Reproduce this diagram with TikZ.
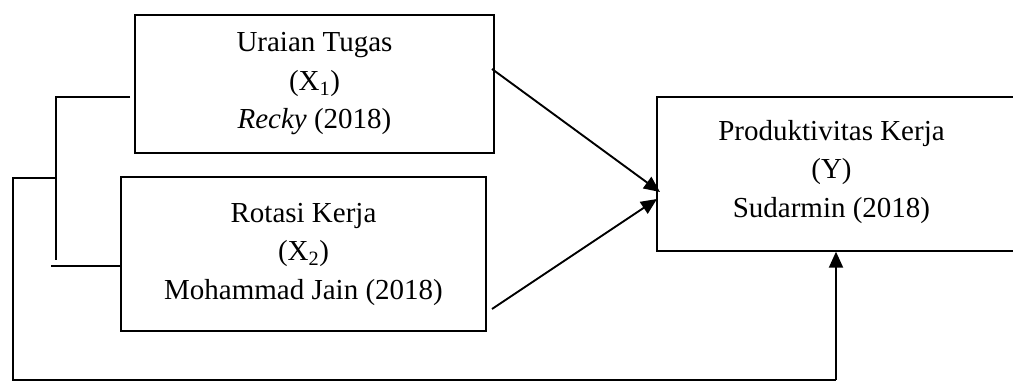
\documentclass[tikz,border=0pt]{standalone}
\usepackage{fontspec}
\setmainfont{Liberation Serif}
\usetikzlibrary{arrows.meta}
\begin{document}
\begin{tikzpicture}[x=1pt,y=-1pt,
  box/.style={draw,line width=1.3pt,inner sep=0pt,align=center,
    font=\fontsize{29}{38.5}\selectfont},
  txt/.style={inner sep=0pt,align=center,font=\fontsize{29}{38.5}\selectfont},
  ln/.style={line width=1.3pt},
  arr/.style={line width=1.9pt,-{Triangle[length=16pt,width=14pt]}}]
\useasboundingbox (0,0) rectangle (1013,381);
\begin{scope}
\clip (0,0) rectangle (1013,381);
\node[box,minimum width=359pt,minimum height=138pt] (u) at (314.5,84)
  {Uraian Tugas\\(X\textsubscript{1})\\\textit{Recky} (2018)};
\node[box,minimum width=365pt,minimum height=154pt] (r) at (303.5,254)
  {Rotasi Kerja\\(X\textsubscript{2})\\Mohammad Jain (2018)};
\node[box,minimum width=363pt,minimum height=154pt] (p) at (838.5,174) {};
\node[txt] (pt) at (831.5,172) {Produktivitas Kerja\\(Y)\\Sudarmin (2018)};
% bracket
\coordinate (b1) at (130,97);
\coordinate (b2) at (56,97);
\coordinate (b3) at (56,260);
\coordinate (b4) at (51,266);
\coordinate (b5) at (56,178);
\coordinate (b6) at (13,178);
\coordinate (b7) at (13,380);
\coordinate (b8) at (836,380);
\draw[ln] (b1) -- (b2) -- (b3);
\draw[ln] (b4) -- (r.west |- b4);
\draw[ln] (b5) -- (b6) -- (b7) -- (b8);
\draw[arr] (b8) -- (p.south -| b8);
% arrows
\coordinate (a1) at (492,69);
\coordinate (t1) at (660,192);
\coordinate (a2) at (492,309);
\coordinate (t2) at (657,199);
\draw[arr] (a1) -- (t1);
\draw[arr] (a2) -- (t2);
\end{scope}
\end{tikzpicture}
\end{document}
